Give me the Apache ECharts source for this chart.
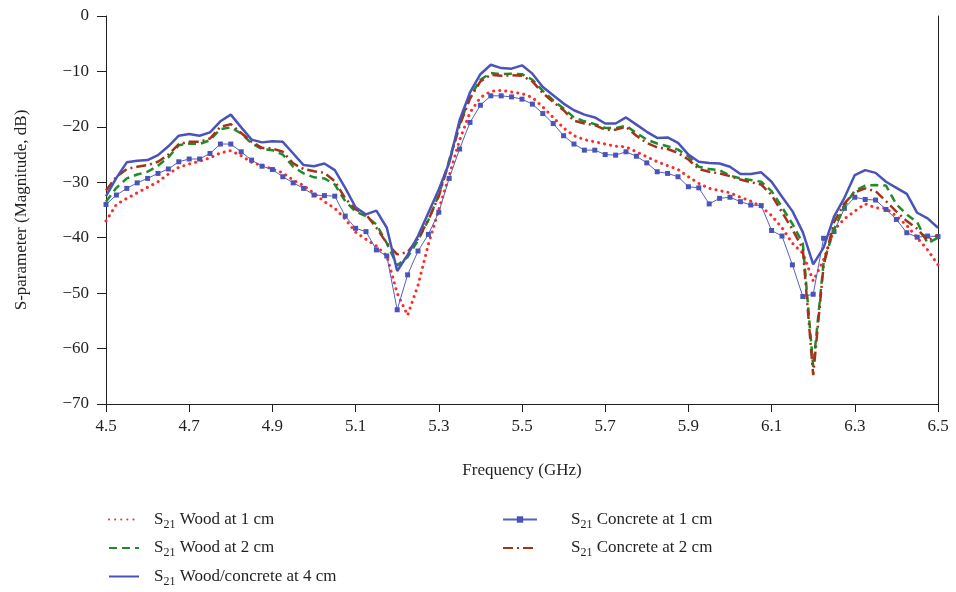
<!DOCTYPE html>
<html>
<head>
<meta charset="utf-8">
<script src="https://cdn.jsdelivr.net/npm/echarts@6/dist/echarts.min.js"></script>
<style>
  html, body { margin: 0; padding: 0; background: #fff; }
  #chart { width: 956px; height: 592px; }
</style>
</head>
<body>
<div id="chart"></div>
<script>
// frequency grid (GHz)
const freq = [
  4.5, 4.525, 4.55, 4.575, 4.6, 4.625, 4.65, 4.675, 4.7, 4.725, 4.75, 4.775, 4.8, 4.825, 4.85, 4.875,
  4.9, 4.925, 4.95, 4.975, 5.0, 5.025, 5.05, 5.075, 5.1, 5.125, 5.15, 5.175, 5.2, 5.225, 5.25, 5.275,
  5.3, 5.325, 5.35, 5.375, 5.4, 5.425, 5.45, 5.475, 5.5, 5.525, 5.55, 5.575, 5.6, 5.625, 5.65, 5.675,
  5.7, 5.725, 5.75, 5.775, 5.8, 5.825, 5.85, 5.875, 5.9, 5.925, 5.95, 5.975, 6.0, 6.025, 6.05, 6.075,
  6.1, 6.125, 6.15, 6.175, 6.2, 6.225, 6.25, 6.275, 6.3, 6.325, 6.35, 6.375, 6.4, 6.425, 6.45, 6.475, 6.5
]

const wood1cm = [
  -37.0, -34.0, -32.9, -31.9, -30.9, -29.9, -28.5, -27.3, -26.7, -26.2, -25.6, -24.7, -24.3, -25.2, -26.4, -27.0,
  -27.6, -28.3, -29.6, -30.6, -32.0, -33.5, -34.7, -36.6, -39.0, -40.3, -41.5, -43.3, -50.0, -54.0, -48.6, -41.2,
  -34.9, -28.8, -22.4, -17.4, -14.7, -13.6, -13.4, -13.7, -14.0, -14.7, -16.4, -18.3, -20.2, -21.6, -22.3, -22.7,
  -23.1, -23.5, -23.6, -24.5, -25.4, -26.3, -27.0, -27.7, -29.0, -30.2, -31.1, -31.5, -31.9, -32.7, -33.4, -34.4,
  -36.0, -38.2, -41.0, -42.8, -47.8, -44.0, -38.6, -36.6, -35.2, -33.9, -34.6, -34.7, -36.1, -37.8, -40.0, -42.2, -44.9
]

const wood2cm = [
  -33.5, -31.0, -29.3, -28.6, -28.1, -27.0, -25.5, -23.3, -23.0, -23.1, -22.4, -20.4, -20.1, -21.2, -23.0, -24.0,
  -24.2, -25.0, -27.2, -28.4, -29.1, -29.3, -30.4, -33.4, -35.3, -36.1, -37.6, -41.0, -45.0, -43.5, -40.5, -36.8,
  -32.3, -26.0, -19.5, -14.6, -11.5, -10.3, -10.5, -10.4, -10.5, -11.5, -13.5, -15.2, -16.7, -18.3, -19.0, -19.5,
  -20.2, -20.2, -19.8, -21.1, -22.3, -23.0, -23.5, -24.1, -25.3, -27.2, -27.6, -27.8, -28.8, -29.3, -29.6, -29.9,
  -31.6, -34.5, -37.5, -41.0, -63.3, -44.5, -38.5, -34.3, -31.5, -30.6, -30.5, -30.6, -34.0, -35.8, -37.2, -41.0, -40.0
]

const woodConcrete4cm = [
  -32.5, -29.2, -26.4, -26.1, -26.0, -25.1, -23.5, -21.6, -21.3, -21.6, -21.0, -19.0, -17.8, -20.1, -22.3, -22.8,
  -22.6, -22.7, -24.8, -26.9, -27.1, -26.6, -27.8, -31.0, -34.5, -35.8, -35.1, -38.2, -46.0, -43.1, -39.7, -35.5,
  -31.3, -26.5, -18.8, -13.8, -10.5, -8.8, -9.4, -9.5, -8.9, -10.4, -12.8, -14.3, -15.8, -17.0, -17.8, -18.3,
  -19.4, -19.4, -18.3, -19.6, -20.9, -22.0, -21.9, -22.9, -25.0, -26.3, -26.5, -26.6, -27.2, -28.5, -28.5, -28.2,
  -29.9, -32.6, -35.2, -39.0, -44.8, -41.8, -36.2, -32.8, -28.7, -27.8, -28.3, -29.9, -31.0, -32.1, -35.5, -36.5, -38.2
]

const concrete1cm = [
  -34.0, -32.3, -31.1, -30.1, -29.3, -28.4, -27.6, -26.3, -25.8, -25.8, -24.8, -23.1, -23.1, -24.5, -26.0, -27.1,
  -27.7, -29.0, -30.1, -31.1, -32.3, -32.4, -32.5, -36.1, -38.3, -38.9, -42.2, -43.3, -53.0, -46.7, -42.4, -39.4,
  -35.4, -29.3, -24.0, -19.2, -16.1, -14.4, -14.4, -14.6, -15.0, -15.9, -17.6, -19.4, -21.6, -23.1, -24.2, -24.2,
  -25.0, -25.1, -24.5, -25.3, -26.5, -28.1, -28.4, -29.0, -30.8, -31.0, -33.9, -32.9, -32.7, -33.5, -34.1, -34.2,
  -38.7, -39.7, -44.9, -50.6, -50.2, -40.1, -38.9, -34.7, -32.7, -33.1, -33.2, -34.9, -36.7, -39.1, -39.9, -39.7, -39.8
]

const concrete2cm = [
  -31.5, -29.0, -27.6, -27.2, -26.9, -26.3, -25.0, -23.1, -22.7, -22.7, -22.1, -20.0, -19.5, -21.1, -22.7, -23.8,
  -23.9, -24.5, -26.6, -27.6, -28.0, -28.3, -29.8, -32.9, -34.9, -35.8, -38.2, -41.0, -43.0, -42.6, -40.2, -36.8,
  -32.5, -26.3, -19.8, -14.9, -11.8, -10.6, -10.8, -10.7, -10.8, -11.8, -13.9, -15.5, -17.0, -18.9, -19.4, -19.7,
  -20.5, -20.5, -20.0, -21.6, -22.9, -23.7, -24.0, -24.7, -25.9, -27.6, -28.1, -28.4, -28.9, -29.5, -30.0, -30.4,
  -32.3, -35.4, -38.5, -42.0, -64.8, -45.0, -37.2, -33.8, -31.8, -31.1, -31.6, -33.4, -35.3, -37.0, -38.4, -40.5, -39.5
]

const xTicks = [4.5, 4.7, 4.9, 5.1, 5.3, 5.5, 5.7, 5.9, 6.1, 6.3, 6.5]

const FONT = '"Liberation Serif", "DejaVu Serif", serif'
const INK = '#231f20'

function pairs(values) {
  return freq.map((f, i) => [f, values[i]])
}

function minusLabel(v) {
  return v < 0 ? '\u2212' + Math.abs(v) : String(v)
}

function legendText(gap) {
  return {
    fontFamily: FONT,
    fontSize: 17,
    color: INK,
    rich: {
      g: { width: gap, fontSize: 17, lineHeight: 22 },
      s: { fontFamily: FONT, fontSize: 17, lineHeight: 22, color: INK },
      sub: { fontFamily: FONT, fontSize: 12, lineHeight: 11, verticalAlign: 'bottom', color: INK },
      t: { fontFamily: FONT, fontSize: 17, lineHeight: 22, color: INK }
    }
  }
}

function legendFormatter(name) {
  return '{g| }{s|S}{sub|21}{t| ' + name.replace('S21 ', '') + '}'
}

// line-only legend entries (no symbol)
function lineOnly(name) {
  return { name, itemStyle: { opacity: 0 } }
}

const chart = echarts.init(document.getElementById('chart'), null, { renderer: 'canvas' })

chart.setOption({
  animation: false,
  backgroundColor: '#fff',
  grid: { left: 106, right: 18, top: 16, bottom: 188 },
  legend: [
    {
      orient: 'vertical',
      left: 103,
      top: 506,
      height: 86,
      itemWidth: 30,
      itemHeight: 14,
      itemGap: 9,
      data: [lineOnly('S21 Wood at 1 cm'), lineOnly('S21 Wood at 2 cm'), lineOnly('S21 Wood/concrete at 4 cm')],
      formatter: legendFormatter,
      textStyle: legendText(10)
    },
    {
      orient: 'vertical',
      left: 497,
      top: 506,
      itemWidth: 34,
      itemHeight: 8,
      itemGap: 9,
      data: ['S21 Concrete at 1 cm', lineOnly('S21 Concrete at 2 cm')],
      formatter: legendFormatter,
      textStyle: legendText(29)
    }
  ],
  xAxis: {
    type: 'value',
    min: 4.5,
    max: 6.5,
    name: 'Frequency (GHz)',
    nameLocation: 'middle',
    nameGap: 58,
    nameTextStyle: { fontFamily: FONT, fontSize: 17, color: INK },
    axisLine: { onZero: false, lineStyle: { color: INK, width: 1 } },
    axisTick: { show: true, length: 8, customValues: xTicks, lineStyle: { color: INK } },
    axisLabel: {
      customValues: xTicks,
      margin: 14,
      fontFamily: FONT,
      fontSize: 17,
      color: INK,
      formatter: v => v.toFixed(1)
    },
    splitLine: { show: false }
  },
  yAxis: [
    {
      type: 'value',
      min: -70,
      max: 0,
      interval: 10,
      name: 'S-parameter (Magnitude, dB)',
      nameLocation: 'middle',
      nameGap: 76,
      nameTextStyle: { fontFamily: FONT, fontSize: 17, color: INK },
      axisLine: { show: true, onZero: false, lineStyle: { color: INK, width: 1 } },
      axisTick: { show: true, length: 9, lineStyle: { color: INK } },
      axisLabel: {
        margin: 17,
        fontFamily: FONT,
        fontSize: 17,
        color: INK,
        formatter: minusLabel
      },
      splitLine: { show: false }
    },
    {
      type: 'value',
      position: 'right',
      min: -70,
      max: 0,
      interval: 10,
      axisLine: { show: true, onZero: false, lineStyle: { color: INK, width: 1 } },
      axisTick: { show: false },
      axisLabel: { show: false },
      splitLine: { show: false }
    }
  ],
  series: [
    {
      name: 'S21 Wood at 1 cm',
      type: 'line',
      symbol: 'none',
      data: pairs(wood1cm),
      lineStyle: { color: '#ff2a2a', width: 3, type: [0.1, 6], cap: 'round' },
      itemStyle: { color: '#ff2a2a' },
      z: 2
    },
    {
      name: 'S21 Concrete at 1 cm',
      type: 'line',
      symbol: 'rect',
      symbolSize: 5,
      data: pairs(concrete1cm),
      lineStyle: { color: '#5561c2', width: 1 },
      itemStyle: { color: '#4a54b8' },
      z: 3
    },
    {
      name: 'S21 Wood at 2 cm',
      type: 'line',
      symbol: 'none',
      data: pairs(wood2cm),
      lineStyle: { color: '#1f8c2a', width: 2.5, type: [8, 5] },
      itemStyle: { color: '#1f8c2a' },
      z: 4
    },
    {
      name: 'S21 Concrete at 2 cm',
      type: 'line',
      symbol: 'none',
      data: pairs(concrete2cm),
      lineStyle: { color: '#a3341a', width: 2.5, type: [10, 4, 2, 4] },
      itemStyle: { color: '#a3341a' },
      z: 5
    },
    {
      name: 'S21 Wood/concrete at 4 cm',
      type: 'line',
      symbol: 'none',
      data: pairs(woodConcrete4cm),
      lineStyle: { color: '#4a54b8', width: 2.5 },
      itemStyle: { color: '#4a54b8' },
      z: 6
    }
  ]
})
</script>
</body>
</html>
